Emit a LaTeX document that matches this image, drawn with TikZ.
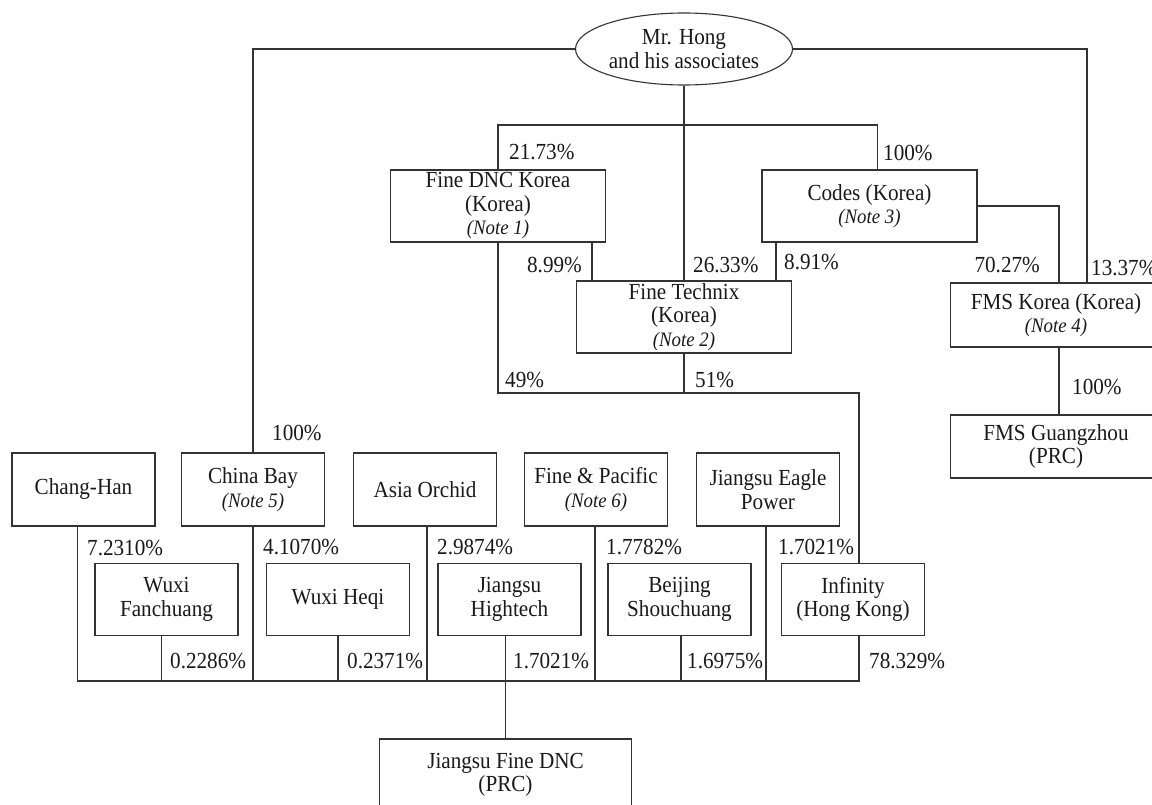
\documentclass[tikz,border=0pt]{standalone}
\usepackage{fontspec}
\setmainfont{Liberation Serif}[FakeStretch=0.92]
\usetikzlibrary{shapes.geometric,positioning}

\newcommand{\chartsize}{\fontsize{23}{23.5}\selectfont}
\newcommand{\notesize}{\fontsize{20.5}{23}\selectfont\itshape}

\begin{document}
\begin{tikzpicture}[
  x=1pt, y=-1pt,
  entity/.style={
    rectangle, draw=black!80, line width=1.1pt,
    minimum width=143pt, minimum height=73pt,
    align=center, inner sep=0pt,
    font=\chartsize, text=black!90
  },
  owner/.style={
    ellipse, draw=black!80, line width=1.1pt,
    minimum width=217pt, minimum height=72pt,
    align=center, inner sep=0pt,
    font=\chartsize, text=black!90
  },
  link/.style={
    draw=black!80, line width=1.1pt
  },
  share/.style={
    font=\chartsize, text=black!90, inner sep=0pt, anchor=west
  }
]
\useasboundingbox (0,0) rectangle (1152,805);

% ==================== OWNERS ====================

% Mr. Hong (top)
\node (hong) [owner] at (684, 49) {Mr. Hong\\and his associates};

% Korean holdings
\node (fdnc) [entity, minimum width=215pt, minimum height=72pt] at (498, 206) {
    Fine DNC Korea\\(Korea)\\{\notesize (Note 1)}
};
\node (codes) [entity, minimum width=215pt, minimum height=72pt] at (869.5, 206) {
    Codes (Korea)\\{\notesize (Note 3)}
};
\node (ftech) [entity, minimum width=215pt, minimum height=72pt] at (684, 317) {
    Fine Technix\\(Korea)\\{\notesize (Note 2)}
};
\node (fmsk) [entity, minimum width=211pt, minimum height=64pt] at (1056, 315) {
    FMS Korea (Korea)\\{\notesize (Note 4)}
};
\node (fmsg) [entity, minimum width=211pt, minimum height=63pt] at (1056, 446.5) {
    FMS Guangzhou\\(PRC)
};

% ==================== SHAREHOLDERS ====================

% upper row
\node (chang) [entity] at (83.5, 489.5) {Chang-Han};
\node (cbay) [entity] at (253, 489.5) {China Bay\\{\notesize (Note 5)}};
\node (asia) [entity] at (425, 489.5) {Asia Orchid};
\node (fpac) [entity] at (596, 489.5) {Fine \& Pacific\\{\notesize (Note 6)}};
\node (eagle) [entity] at (768, 489.5) {Jiangsu Eagle\\Power};

% lower row
\node (wuxf) [entity, minimum height=72pt] at (166.5, 599.5) {Wuxi\\Fanchuang};
\node (wuxh) [entity, minimum height=72pt] at (338, 599.5) {Wuxi Heqi};
\node (jhigh) [entity, minimum height=72pt] at (509.5, 599.5) {Jiangsu\\Hightech};
\node (bsc) [entity, minimum height=72pt] at (679.5, 599.5) {Beijing\\Shouchuang};
\node (inf) [entity, minimum height=72pt] at (853, 599.5) {Infinity\\(Hong Kong)};

% Jiangsu Fine DNC (bottom)
\node (jfdnc) [entity, minimum width=252pt, minimum height=72pt] at (505.5, 775) {
    Jiangsu Fine DNC\\(PRC)
};

% ==================== LINKS ====================

\coordinate (branch) at (684, 125);
\coordinate (mid) at (684, 393);
\coordinate (bus) at (505.5, 681);

% Mr. Hong
\draw [link] (hong.west) -| (cbay.north);
\draw [link] (hong.east) -| ([xshift=31pt]fmsk.north);
\draw [link] (hong.south) -- (ftech.north);
\draw [link] (fdnc.north) |- (branch);
\draw [link] ([xshift=8pt]codes.north) |- (branch);

% Korea
\draw [link] ([xshift=-92pt]ftech.north) -- ([xshift=-92pt]ftech.north |- fdnc.south);
\draw [link] ([xshift=92pt]ftech.north) -- ([xshift=92pt]ftech.north |- codes.south);
\draw [link] (codes.east) -| ([xshift=3pt]fmsk.north);
\draw [link] ([xshift=3pt]fmsk.south) -- ([xshift=3pt]fmsg.north);

% Infinity
\draw [link] (fdnc.south) |- (mid) -| ([xshift=6pt]inf.north);
\draw [link] (ftech.south) -- (mid);

% Jiangsu Fine DNC
\draw [link] ([xshift=-6pt]chang.south) |- (bus) -| ([xshift=6pt]inf.south);
\draw [link] ([xshift=-5pt]wuxf.south) -- ([xshift=-5pt]wuxf.south |- bus);
\draw [link] (cbay.south) -- (cbay.south |- bus);
\draw [link] (wuxh.south) -- (wuxh.south |- bus);
\draw [link] ([xshift=2pt]asia.south) -- ([xshift=2pt]asia.south |- bus);
\draw [link] ([xshift=-1pt]fpac.south) -- ([xshift=-1pt]fpac.south |- bus);
\draw [link] ([xshift=1.5pt]bsc.south) -- ([xshift=1.5pt]bsc.south |- bus);
\draw [link] ([xshift=-2pt]eagle.south) -- ([xshift=-2pt]eagle.south |- bus);
\draw [link] ([xshift=-4pt]jhigh.south) -- (jfdnc.north);

% ==================== SHARES ====================

\node (p2173) [share] at (509, 152) {21.73\%};
\node (p100c) [share] at (883, 153) {100\%};
\node (p899) [share, anchor=east] at (582, 265) {8.99\%};
\node (p2633) [share] at (693, 265) {26.33\%};
\node (p891) [share] at (784, 262) {8.91\%};
\node (p7027) [share, anchor=east] at (1040, 265) {70.27\%};
\node (p1337) [share] at (1091, 268) {13.37\%};
\node (p100f) [share] at (1072, 387) {100\%};
\node (p49) [share] at (505, 380) {49\%};
\node (p51) [share] at (695, 380) {51\%};
\node (p100b) [share] at (272, 433) {100\%};

\node (p72310) [share] at (87, 548) {7.2310\%};
\node (p41070) [share] at (263, 547) {4.1070\%};
\node (p29874) [share] at (437, 547) {2.9874\%};
\node (p17782) [share] at (606, 547) {1.7782\%};
\node (p17021e) [share] at (778, 547) {1.7021\%};

\node (p02286) [share] at (170, 661) {0.2286\%};
\node (p02371) [share] at (347, 661) {0.2371\%};
\node (p17021h) [share] at (513, 661) {1.7021\%};
\node (p16975) [share] at (687, 661) {1.6975\%};
\node (p78329) [share] at (869, 661) {78.329\%};

\end{tikzpicture}
\end{document}
